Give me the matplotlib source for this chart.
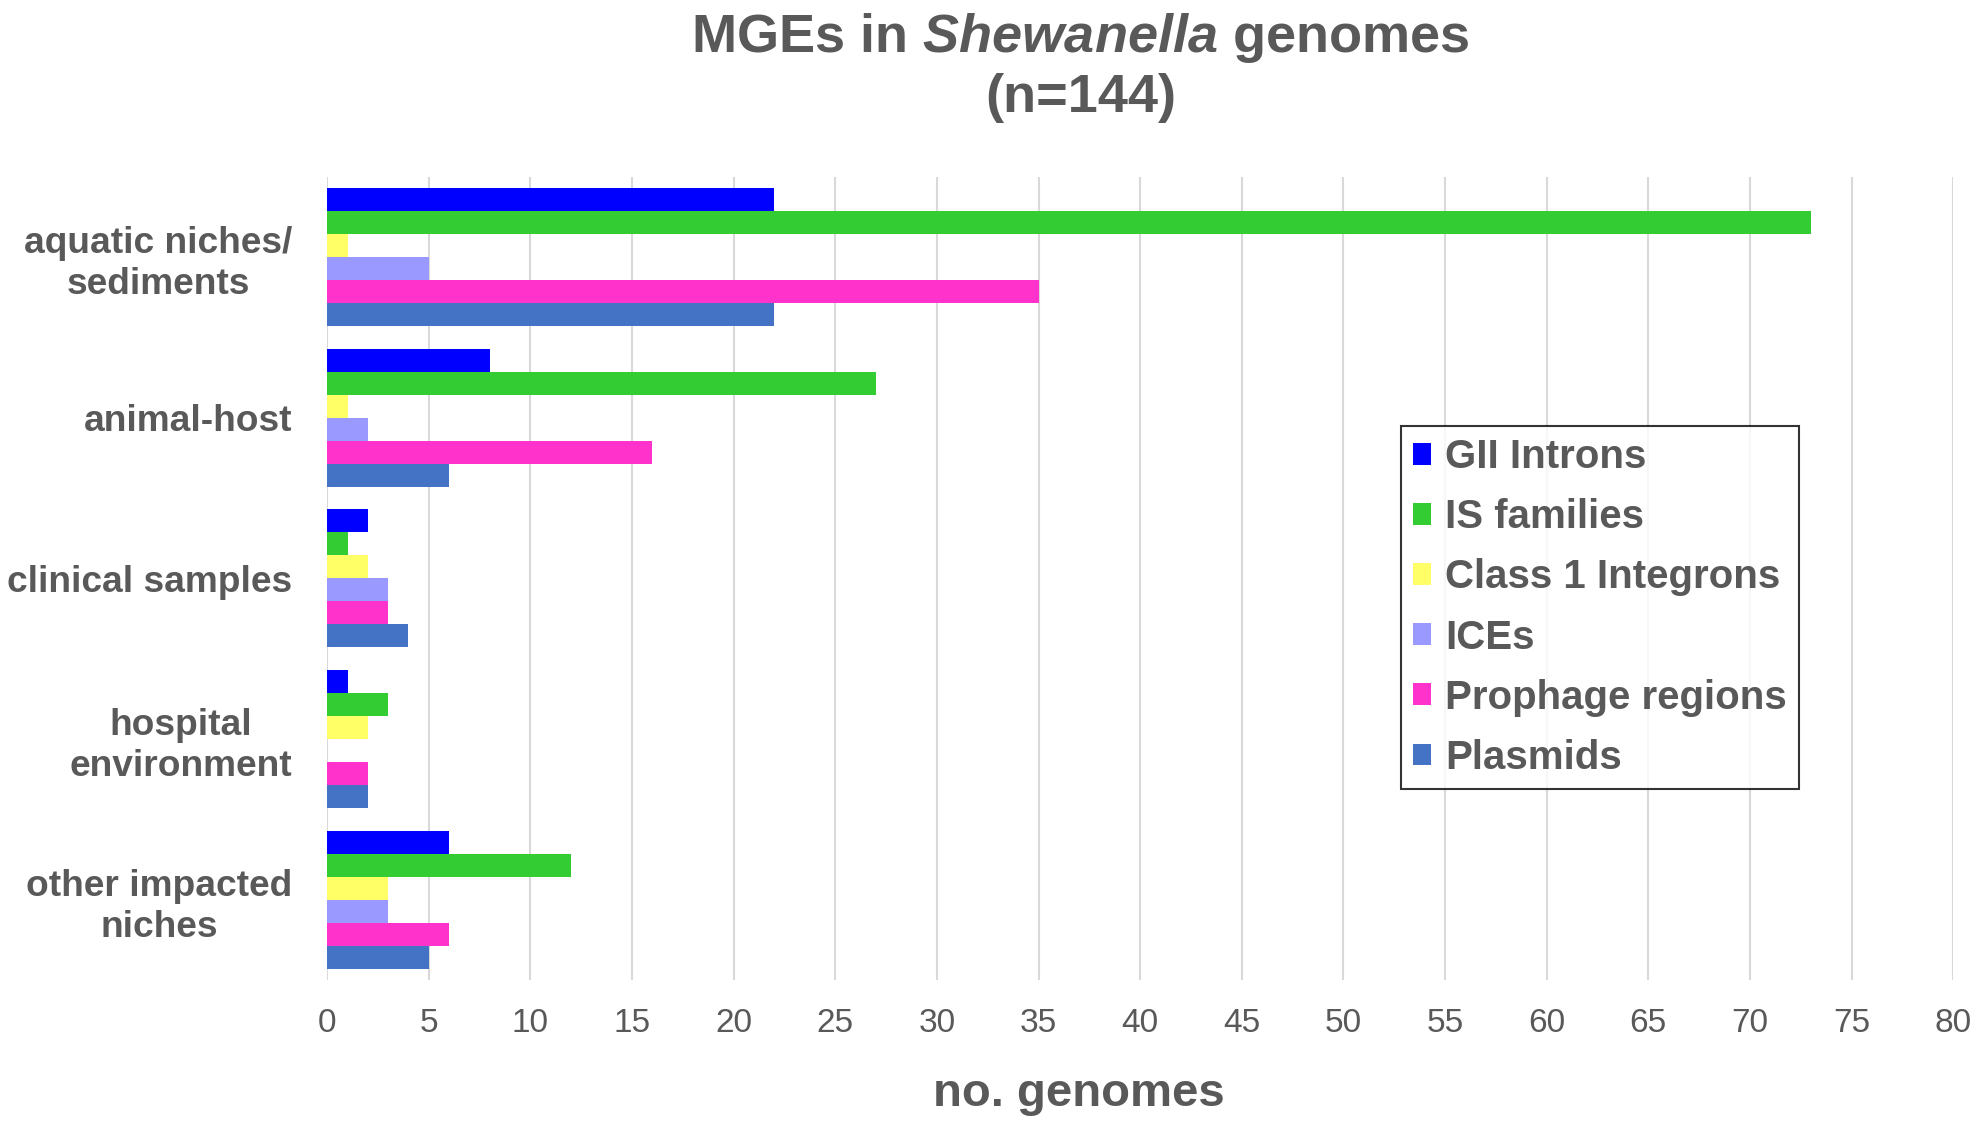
import numpy as np
import matplotlib
matplotlib.use("Agg")
import matplotlib.pyplot as plt

plt.rcParams['font.family'] = ['Liberation Sans', 'DejaVu Sans']
plt.rcParams['mathtext.fontset'] = 'custom'
plt.rcParams['mathtext.it'] = 'Liberation Sans:italic:bold'

niches = ['aquatic niches/\nsediments', 'animal-host', 'clinical samples',
          'hospital\nenvironment', 'other impacted\nniches']
series = ['GII Introns', 'IS families', 'Class 1 Integrons', 'ICEs',
          'Prophage regions', 'Plasmids']
gii = [22, 8, 2, 1, 6]
is_fam = [73, 27, 1, 3, 12]
integrons = [1, 1, 2, 2, 3]
ices = [5, 2, 3, 0, 3]
prophage = [35, 16, 3, 2, 6]
plasmids = [22, 6, 4, 2, 5]
values = [gii, is_fam, integrons, ices, prophage, plasmids]
colors = ['#0000ff', '#33cc33', '#ffff66', '#9999ff', '#ff33cc', '#4472c4']

txt = '#595959'

fig = plt.figure(figsize=(19.83, 11.32), dpi=100)
ax = fig.add_axes([0.165, 0.134, 0.82, 0.71])

n = len(series)
h = 0.143
y = np.arange(len(niches))
for i in range(n):
    off = (i - (n - 1) / 2) * h
    ax.barh(y + off, values[i], height=h, color=colors[i], label=series[i])

ax.set_ylim(len(niches) - 0.5, -0.5)
ax.set_xlim(0, 80)
ax.set_xticks(np.arange(0, 81, 5))
ax.set_yticks(y)
ax.set_yticklabels(niches, fontsize=26.7, fontweight='bold', color=txt,
                   linespacing=1.22, multialignment='center')
ax.tick_params(axis='y', length=0, pad=25)
ax.tick_params(axis='x', length=0, labelsize=24, labelcolor=txt, pad=20)
ax.xaxis.grid(True, color='#d9d9d9', linewidth=1.5)
ax.set_axisbelow(True)
for s in ax.spines.values():
    s.set_visible(False)

fig.text(0.544, 0.034, 'no. genomes', ha='center', va='center',
         fontsize=34, fontweight='bold', color=txt)

fig.text(0.545, 0.966, r'MGEs in $\mathit{Shewanella}$ genomes',
         ha='center', va='center', fontsize=39, fontweight='bold', color=txt)
fig.text(0.545, 0.913, '(n=144)', ha='center', va='center', fontsize=39,
         fontweight='bold', color=txt)

leg = ax.legend(loc='upper left', bbox_to_anchor=(0.7066, 0.6237),
                bbox_transform=fig.transFigure,
                frameon=True, fancybox=False, edgecolor='black',
                handlelength=0.45, handleheight=0.45, handletextpad=0.35,
                labelspacing=0.55, borderpad=0.3, borderaxespad=0,
                prop={'weight': 'bold', 'size': 29})
leg.get_frame().set_linewidth(1.5)
for t in leg.get_texts():
    t.set_color(txt)

fig.savefig('out.png', dpi=100)
